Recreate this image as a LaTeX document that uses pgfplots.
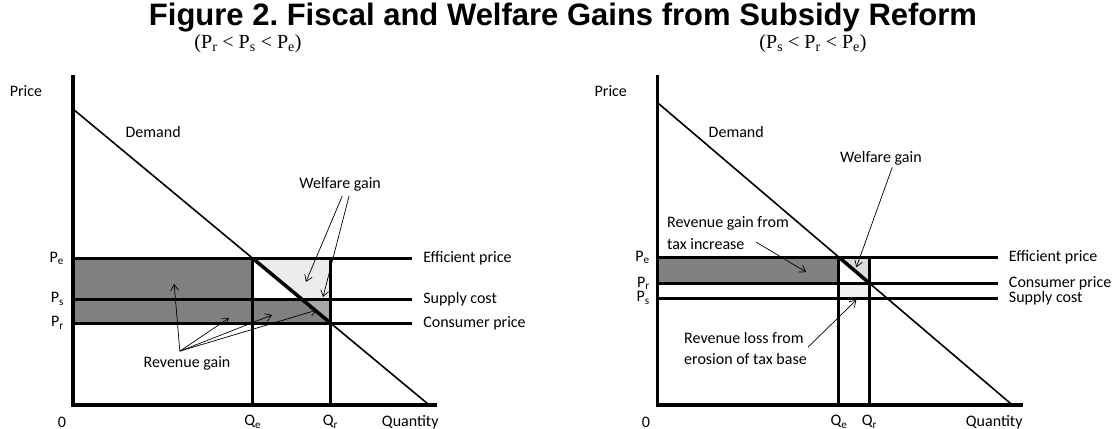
\documentclass[border=0pt]{standalone}
\usepackage{pgfplots}
\pgfplotsset{compat=1.18}
\usepackage{fontspec}
\setmainfont{Carlito}
\newfontfamily\titlefont{Liberation Sans}
\newfontfamily\subfont{Liberation Serif}
\usetikzlibrary{arrows.meta}
\frenchspacing
\definecolor{dk}{RGB}{128,128,128}
\definecolor{md}{RGB}{168,168,168}
\definecolor{lt}{RGB}{236,236,236}
\definecolor{lt2}{RGB}{220,220,220}
\definecolor{lt3}{RGB}{242,242,242}
\tikzset{arr/.style={line width=0.7bp,-{Straight Barb[length=6bp,width=8bp]}},
  lab/.style={font=\fontsize{16bp}{19bp}\selectfont, inner sep=0pt}}
\begin{document}
\begin{tikzpicture}
\useasboundingbox (0bp,0bp) rectangle (1119bp,429bp);
\node[font=\titlefont\bfseries\fontsize{31bp}{36bp}\selectfont, inner sep=0pt] at (563bp,411bp) {Figure 2. Fiscal and Welfare Gains from Subsidy Reform};
\node[font=\subfont\fontsize{20bp}{24bp}\selectfont, inner sep=0pt] at (248bp,385bp) {(P\textsubscript{r} < P\textsubscript{s} < P\textsubscript{e})};
\node[font=\subfont\fontsize{20bp}{24bp}\selectfont, inner sep=0pt] at (813bp,385bp) {(P\textsubscript{s} < P\textsubscript{r} < P\textsubscript{e})};

% ---------------- left panel ----------------
\begin{axis}[at={(73bp,24bp)}, anchor=south west, width=364bp, height=330bp, scale only axis,
  xmin=0, xmax=10.22, ymin=0, ymax=11.15, hide axis, clip=false]
% fills
\addplot[fill=dk, draw=none] coordinates {(0,2.77) (0,4.95) (5.05,4.95) (5.05,2.77)} -- cycle;
\addplot[fill=dk, draw=none] coordinates {(5.05,2.77) (5.05,3.58) (6.42,3.58) (7.23,2.77)} -- cycle;
\addplot[fill=md, draw=none] coordinates {(6.42,3.58) (7.23,3.58) (7.23,2.77)} -- cycle;
\addplot[fill=lt, draw=none] coordinates {(5.05,4.95) (7.23,4.95) (7.23,3.58) (6.42,3.58)} -- cycle;
% price lines
\addplot[line width=3bp] coordinates {(0,4.95) (9.52,4.95)};
\addplot[line width=3bp] coordinates {(0,3.58) (9.52,3.58)};
\addplot[line width=3bp] coordinates {(0,2.77) (9.52,2.77)};
% quantity lines
\addplot[line width=3bp] coordinates {(5.05,0) (5.05,4.95)};
\addplot[line width=3bp] coordinates {(7.23,0) (7.23,4.95)};
% demand
\addplot[line width=1.6bp] coordinates {(0,10) (10,0)};
\addplot[line width=3.5bp] coordinates {(5.05,4.95) (7.23,2.77)};
% axes
\addplot[line width=3bp, line join=miter] coordinates {(0,11.15) (0,0) (10.22,0)};
% labels
\node[lab] at (axis cs:-1.32,10.61) {Price};
\node[lab] at (axis cs:2.25,9.22) {Demand};
\node[lab] at (axis cs:7.5,7.47) {Welfare gain};
\node[lab, anchor=east] at (axis cs:-0.25,4.95) {P\textsubscript{e}};
\node[lab, anchor=east] at (axis cs:-0.25,3.58) {P\textsubscript{s}};
\node[lab, anchor=east] at (axis cs:-0.25,2.77) {P\textsubscript{r}};
\node[lab, anchor=west] at (axis cs:9.83,4.95) {Efficient price};
\node[lab, anchor=west] at (axis cs:9.83,3.58) {Supply cost};
\node[lab, anchor=west] at (axis cs:9.83,2.77) {Consumer price};
\node[lab] at (axis cs:3.2,1.39) {Revenue gain};
\node[lab] at (axis cs:-0.31,-0.57) {0};
\node[lab] at (axis cs:5.05,-0.57) {Q\textsubscript{e}};
\node[lab] at (axis cs:7.23,-0.57) {Q\textsubscript{r}};
\node[lab] at (axis cs:9.47,-0.57) {Quantity};
% arrows
\draw[arr] (axis cs:3.0,1.82) -- (axis cs:2.84,4.09);
\draw[arr] (axis cs:3.0,1.82) -- (axis cs:4.38,2.94);
\draw[arr] (axis cs:3.0,1.82) -- (axis cs:5.59,3.04);
\draw[arr] (axis cs:3.0,1.82) -- (axis cs:6.85,3.21);
\draw[arr] (axis cs:7.56,7.06) -- (axis cs:6.54,4.16);
\draw[arr] (axis cs:7.75,7.06) -- (axis cs:7.02,3.65);
\end{axis}

% ---------------- right panel ----------------
\begin{axis}[at={(657bp,24bp)}, anchor=south west, width=366bp, height=330bp, scale only axis,
  xmin=0, xmax=10.3, ymin=0, ymax=10.9, hide axis, clip=false]
\addplot[fill=dk, draw=none] coordinates {(0,4.02) (0,4.88) (5.12,4.88) (5.12,4.02)} -- cycle;
\addplot[fill=lt2, draw=none] coordinates {(5.12,4.88) (5.98,4.88) (5.98,4.02)} -- cycle;
\addplot[fill=lt3, draw=none] coordinates {(5.12,3.53) (5.98,3.53) (5.98,4.02) (5.12,4.02)} -- cycle;
\addplot[line width=3bp] coordinates {(0,4.88) (9.6,4.88)};
\addplot[line width=3bp] coordinates {(0,4.02) (9.6,4.02)};
\addplot[line width=3bp] coordinates {(0,3.53) (9.6,3.53)};
\addplot[line width=3bp] coordinates {(5.12,0) (5.12,4.88)};
\addplot[line width=3bp] coordinates {(5.98,0) (5.98,4.88)};
\addplot[line width=1.6bp] coordinates {(0,10) (10,0)};
\addplot[line width=3.5bp] coordinates {(5.12,4.88) (5.98,4.02)};
\addplot[line width=3bp, line join=miter] coordinates {(0,10.9) (0,0) (10.3,0)};
\node[lab] at (axis cs:-1.3,10.36) {Price};
\node[lab] at (axis cs:2.23,9.01) {Demand};
\node[lab, anchor=west] at (axis cs:5.15,8.15) {Welfare gain};
\node[lab, anchor=west] at (axis cs:0.28,6.0) {Revenue gain from};
\node[lab, anchor=west] at (axis cs:0.28,5.31) {tax increase};
\node[lab, anchor=west] at (axis cs:0.76,2.21) {Revenue loss from};
\node[lab, anchor=west] at (axis cs:0.76,1.52) {erosion of tax base};
\node[lab, anchor=east] at (axis cs:-0.2,4.88) {P\textsubscript{e}};
\node[lab, anchor=east] at (axis cs:-0.2,4.02) {P\textsubscript{r}};
\node[lab, anchor=east] at (axis cs:-0.2,3.53) {P\textsubscript{s}};
\node[lab, anchor=west] at (axis cs:9.9,4.88) {Efficient price};
\node[lab, anchor=west] at (axis cs:9.9,4.02) {Consumer price};
\node[lab, anchor=west] at (axis cs:9.9,3.53) {Supply cost};
\node[lab] at (axis cs:-0.31,-0.56) {0};
\node[lab] at (axis cs:5.12,-0.56) {Q\textsubscript{e}};
\node[lab] at (axis cs:5.98,-0.56) {Q\textsubscript{r}};
\node[lab] at (axis cs:9.49,-0.56) {Quantity};
\draw[arr] (axis cs:6.62,7.85) -- (axis cs:5.61,4.55);
\draw[arr] (axis cs:2.79,5.38) -- (axis cs:4.2,4.39);
\draw[arr] (axis cs:4.25,1.91) -- (axis cs:5.61,3.47);
\end{axis}
\end{tikzpicture}
\end{document}
